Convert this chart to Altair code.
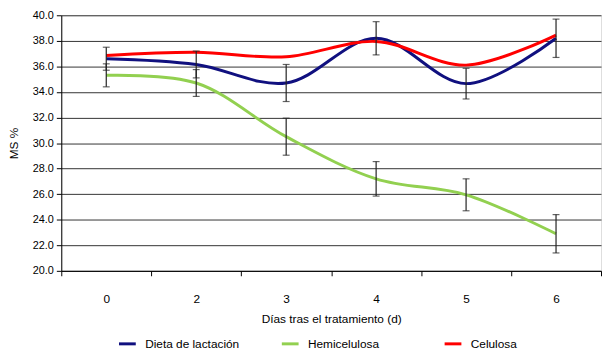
import altair as alt
import pandas as pd

days = ["0", "2", "3", "4", "5", "6"]
series_names = ["Dieta de lactación", "Hemicelulosa", "Celulosa"]
series_colors = ["#10107f", "#92d050", "#ff0000"]
dieta = [36.6, 36.15, 34.7, 38.2, 34.65, 38.2]
dieta_err = [0.9, 1.05, 1.45, 1.3, 1.2, 1.5]
hemi = [35.3, 34.7, 30.5, 27.2, 25.95, 22.9]
hemi_err = [0.9, 1.05, 1.45, 1.35, 1.25, 1.5]
celu = [36.85, 37.1, 36.75, 37.95, 36.1, 38.45]
celu_err = [0, 0, 0, 0, 0, 0]
y_ticks = [20, 22, 24, 26, 28, 30, 32, 34, 36, 38, 40]

rows = []
for name, vals, errs in [(series_names[0], dieta, dieta_err),
                         (series_names[1], hemi, hemi_err),
                         (series_names[2], celu, celu_err)]:
    for i, (d, v, e) in enumerate(zip(days, vals, errs)):
        rows.append({"d": d, "serie": name, "v": v, "lo": v - e, "hi": v + e, "e": e})
df = pd.DataFrame(rows)

FONT = "Liberation Sans"

x_scale = alt.Scale(type="band", paddingInner=0, paddingOuter=0)
x_axis = alt.Axis(title="Días tras el tratamiento (d)", labelAngle=0, tickBand="extent",
                  grid=False, domainColor="black", tickColor="black", tickSize=5,
                  labelPadding=18, titlePadding=9, labelFontSize=12, titleFontSize=12,
                  labelFont=FONT, titleFont=FONT, titleFontWeight="normal",
                  labelColor="black", titleColor="black")
y_scale = alt.Scale(domain=[20, 40], nice=False, zero=False)
y_axis = alt.Axis(title="MS %", values=y_ticks, format=".1f", grid=True, tickCount=11,
                  labelOverlap=False,
                  gridColor="#333333", gridWidth=1, domainColor="black", tickColor="black",
                  tickSize=5, labelPadding=3, titlePadding=12, labelFontSize=11,
                  titleFontSize=12, labelFont=FONT, titleFont=FONT,
                  titleFontWeight="normal", labelColor="black", titleColor="black")


def X():
    return alt.X("d:O", sort=days, bandPosition=0.5, scale=x_scale, axis=x_axis)


color = alt.Color("serie:N", sort=series_names,
                  scale=alt.Scale(domain=series_names, range=series_colors),
                  legend=alt.Legend(title=None, orient="none", legendX=57, legendY=323,
                                    direction="horizontal", columns=3, gridAlign="all",
                                    columnPadding=36, symbolType="stroke", symbolSize=289,
                                    symbolStrokeWidth=3, labelFontSize=12, labelFont=FONT,
                                    labelColor="black", labelOffset=8))

lines = alt.Chart(df).mark_line(interpolate="catmull-rom", strokeWidth=3).encode(
    x=X(), y=alt.Y("v:Q", scale=y_scale, axis=y_axis), color=color)

eb = df[df["e"] > 0]
rules = alt.Chart(eb).mark_rule(color="#222222", strokeWidth=1.2).encode(
    x=X(), y=alt.Y("lo:Q", scale=y_scale, axis=y_axis), y2="hi:Q")
caps_lo = alt.Chart(eb).mark_tick(color="#222222", orient="horizontal", size=7, thickness=1.2).encode(
    x=alt.X("d:O", sort=days, scale=x_scale, axis=x_axis),
    y=alt.Y("lo:Q", scale=y_scale, axis=y_axis))
caps_hi = alt.Chart(eb).mark_tick(color="#222222", orient="horizontal", size=7, thickness=1.2).encode(
    x=alt.X("d:O", sort=days, scale=x_scale, axis=x_axis),
    y=alt.Y("hi:Q", scale=y_scale, axis=y_axis))

chart = alt.layer(lines, rules, caps_lo, caps_hi).properties(
    width=547, height=259,
    autosize=alt.AutoSizeParams(type="none"),
    padding={"left": 54, "top": 5, "right": 1, "bottom": 89},
).configure_view(stroke="#808080", strokeWidth=2).configure(background="white")

chart.save("out.html", embed_options={"renderer": "svg", "actions": False})
